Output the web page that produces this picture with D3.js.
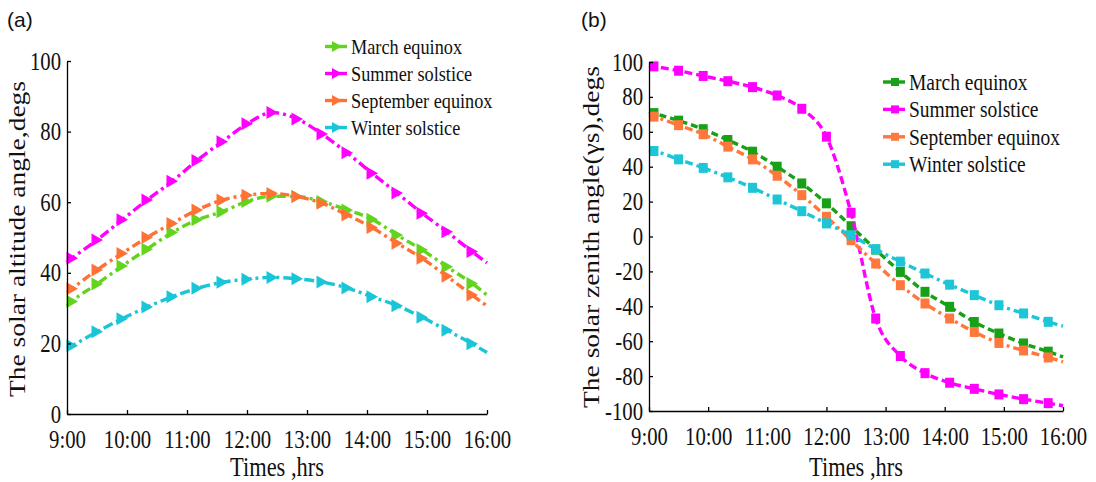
<!DOCTYPE html>
<html lang="en">
<head>
<meta charset="UTF-8">
<title>Solar angles</title>
<script src="https://cdn.jsdelivr.net/npm/d3@7/dist/d3.min.js"></script>
<style>
  body { margin: 0; background: #fff; }
  text { font-family: "Liberation Serif", "Times New Roman", serif; fill: #111; }
</style>
</head>
<body>
<svg width="1096" height="482"></svg>
<script>
// sample times: the curve starts at 9:00 and ends at 16:00, markers every 25 min from 9:05
var timeLabels = ["9:00","9:05","9:30","9:55","10:20","10:45","11:10","11:35","12:00","12:25",
                  "12:50","13:15","13:40","14:05","14:30","14:55","15:20","15:45","16:00"];
var seriesNames = ["March equinox", "Summer solstice", "September equinox", "Winter solstice"];
var xTicks = [9, 10, 11, 12, 13, 14, 15, 16];

// (a) solar altitude angle, degs
var marchA  = [30.6, 31.9, 36.8, 41.9, 46.7, 51.4, 55.0, 57.3, 60.2, 61.7, 61.6, 60.2, 57.8, 55.2, 50.7, 46.5, 41.7, 37.0, 33.7];
var summerA = [43.0, 44.1, 49.3, 55.0, 60.6, 65.9, 71.8, 77.1, 82.2, 85.4, 83.6, 79.3, 74.0, 68.2, 62.6, 56.9, 51.6, 46.0, 42.8];
var septA   = [34.4, 35.5, 40.8, 45.5, 50.0, 54.0, 57.8, 60.6, 62.0, 62.5, 61.6, 59.7, 56.4, 52.8, 48.4, 44.1, 39.0, 33.7, 30.6];
var winterA = [18.5, 19.3, 23.3, 27.0, 30.3, 33.2, 35.6, 37.3, 38.2, 38.7, 38.3, 37.4, 35.7, 33.2, 30.7, 27.4, 23.7, 19.9, 17.4];
var yTicksA = [0, 20, 40, 60, 80, 100];

// (b) solar zenith angle (gamma s), degs
var marchB  = [71.5, 70.7, 66.4, 61.5, 55.3, 48.6, 40.0, 30.4, 19.0, 5.9, -7.5, -20.3, -31.7, -40.3, -49.0, -55.6, -61.3, -66.0, -69.0];
var summerB = [98.0, 97.5, 95.0, 92.0, 89.0, 85.6, 80.8, 73.2, 57.2, 13.6, -47.0, -68.5, -78.3, -83.8, -87.3, -90.5, -93.2, -95.5, -97.0];
var septB   = [69.5, 68.7, 63.8, 58.6, 51.5, 44.2, 34.8, 23.7, 11.3, -2.1, -15.5, -27.9, -38.4, -47.0, -54.7, -61.0, -65.3, -69.3, -71.8];
var winterB = [49.5, 49.0, 44.2, 39.3, 33.9, 27.9, 21.2, 14.5, 7.5, 0.7, -7.3, -14.4, -21.2, -27.6, -33.6, -39.4, -44.1, -48.9, -51.4];
var yTicksB = [-100, -80, -60, -40, -20, 0, 20, 40, 60, 80, 100];

var svg = d3.select('svg');
var squeeze = 0.83;   // the source figure is narrower than its fonts

function toHours(s) { var p = s.split(':'); return +p[0] + p[1] / 60; }
var hours = timeLabels.map(toHours);

function panel(opt) {
    var x = d3.scaleLinear().domain([9, 16]).range([opt.left, opt.right]);
    var y = d3.scaleLinear().domain(opt.yDomain).range([opt.bottom, opt.top]);
    var g = svg.append('g');

    var line = d3.line()
        .x(function(d) { return x(d[0]); })
        .y(function(d) { return y(d[1]); })
        .curve(d3.curveMonotoneX);

    opt.series.forEach(function(vals, k) {
        var pts = vals.map(function(v, i) { return [hours[i], v]; });
        g.append('path').attr('d', line(pts))
            .attr('fill', 'none').attr('stroke', opt.colors[k])
            .attr('stroke-width', 3.4).attr('stroke-dasharray', opt.dashes[k]);
        // markers on the inner points only
        g.selectAll(null).data(pts.slice(1, pts.length - 1)).enter()
            .append('path')
            .attr('d', opt.marker)
            .attr('transform', function(d) { return 'translate(' + x(d[0]) + ',' + y(d[1]) + ')'; })
            .attr('fill', opt.colors[k]);
    });

    // axes, ticks point inward
    var ax = g.append('g').attr('transform', 'translate(0,' + opt.bottom + ')')
        .call(d3.axisBottom(x).tickValues(xTicks).tickSizeInner(-4).tickSizeOuter(0).tickPadding(16)
            .tickFormat(function(d) { return d + ':00'; }));
    var ay = g.append('g').attr('transform', 'translate(' + opt.left + ',0)')
        .call(d3.axisLeft(y).tickValues(opt.yTicks).tickSizeInner(-4).tickSizeOuter(0).tickPadding(6)
            .tickFormat(function(d) { return String(d); }));
    [ax, ay].forEach(function(a) {
        a.attr('font-family', null).attr('font-size', null);
        a.selectAll('path.domain').attr('stroke', '#000').attr('stroke-width', 1.3);
        a.selectAll('line').attr('stroke', '#000').attr('stroke-width', 1.3);
        a.selectAll('text').attr('class', 'sq').style('font-size', '25px').attr('fill', '#111');
    });
    ay.selectAll('text').attr('dy', '0.32em');

    // titles
    g.append('text').attr('class', 'sq')
        .attr('x', (opt.left + opt.right) / 2).attr('y', 476)
        .attr('text-anchor', 'middle').style('font-size', '27px').text('Times ,hrs');
    g.append('text')
        .attr('transform', 'translate(' + opt.ytX + ',' + opt.ytY + ') scale(' + squeeze + ',1) rotate(-90)')
        .attr('text-anchor', 'middle').style('font-size', '27.5px').text(opt.yTitle);
    g.append('text')
        .attr('x', opt.tagX).attr('y', 27)
        .style('font-family', '"Liberation Sans", Arial, sans-serif').style('font-size', '21px')
        .text(opt.tag);

    // legend
    var lg = g.append('g');
    seriesNames.forEach(function(name, k) {
        var yy = opt.legY + k * opt.legStep;
        lg.append('line').attr('x1', opt.legX).attr('x2', opt.legX + 22)
            .attr('y1', yy).attr('y2', yy)
            .attr('stroke', opt.colors[k]).attr('stroke-width', 3.4);
        lg.append('path').attr('d', opt.legMarker)
            .attr('transform', 'translate(' + (opt.legX + 12) + ',' + yy + ')')
            .attr('fill', opt.colors[k]);
        lg.append('text').attr('class', 'sq')
            .attr('x', opt.legX + 26).attr('y', yy).attr('dy', '0.33em')
            .style('font-size', opt.legFont + 'px').text(name);
    });
}

panel({
    left: 67, right: 487, top: 61, bottom: 414, yDomain: [0, 100], yTicks: yTicksA,
    series: [marchA, summerA, septA, winterA],
    colors: ['#62d41e', '#ff00ff', '#ff7236', '#19c5d6'],
    dashes: ['9,4,3,4', '10,4,3,4', '9,4,3,4', '10,4,3,4'],
    marker: 'M-5.5,-6.5L6,0L-5.5,6.5Z',
    legMarker: 'M-5,-5.5L5,0L-5,5.5Z',
    yTitle: 'The solar altitude angle,degs', ytX: 25, ytY: 239,
    tag: '(a)', tagX: 7,
    legX: 325, legY: 46.5, legStep: 27, legFont: 22
});

panel({
    left: 649, right: 1063, top: 62, bottom: 411, yDomain: [-100, 100], yTicks: yTicksB,
    series: [marchB, summerB, septB, winterB],
    colors: ['#17a117', '#ff00ff', '#ff773a', '#1cc6d7'],
    dashes: ['7,4', '8,4', '8,4,3,4', '8,4,3,4'],
    marker: 'M-4.5,-5L4.5,-5L4.5,5L-4.5,5Z',
    legMarker: 'M-4,-4L4,-4L4,4L-4,4Z',
    yTitle: 'The solar zenith angle(\u03b3s),degs', ytX: 599, ytY: 237,
    tag: '(b)', tagX: 581,
    legX: 883, legY: 82, legStep: 27.4, legFont: 23.5
});

// narrow the horizontal text like the source figure
svg.selectAll('text.sq').each(function() {
    var w = this.getComputedTextLength();
    d3.select(this).attr('textLength', w * squeeze).attr('lengthAdjust', 'spacingAndGlyphs');
});
</script>
</body>
</html>
